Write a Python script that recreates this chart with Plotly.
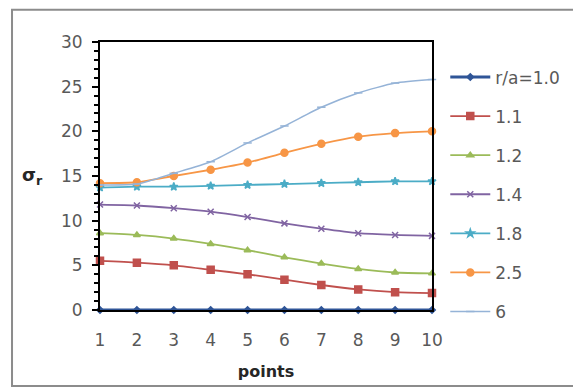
import plotly.graph_objects as go

points = [1, 2, 3, 4, 5, 6, 7, 8, 9, 10]
series_names = ["r/a=1.0", "1.1", "1.2", "1.4", "1.8", "2.5", "6"]
s_10 = [0, 0, 0, 0, 0, 0, 0, 0, 0, 0]
s_11 = [5.5, 5.3, 5.0, 4.5, 4.0, 3.4, 2.8, 2.3, 2.0, 1.9]
s_12 = [8.6, 8.4, 8.0, 7.4, 6.7, 5.9, 5.2, 4.6, 4.2, 4.1]
s_14 = [11.8, 11.7, 11.4, 11.0, 10.4, 9.7, 9.1, 8.6, 8.4, 8.3]
s_18 = [13.7, 13.8, 13.8, 13.9, 14.0, 14.1, 14.2, 14.3, 14.4, 14.4]
s_25 = [14.2, 14.3, 15.0, 15.7, 16.5, 17.6, 18.6, 19.4, 19.8, 20.0]
s_6 = [14.0, 14.1, 15.3, 16.6, 18.7, 20.6, 22.7, 24.3, 25.4, 25.8]

all_series = [s_10, s_11, s_12, s_14, s_18, s_25, s_6]
colors = ["#2F5597", "#C0504D", "#9BBB59", "#8064A2", "#4BACC6", "#F79646", "#95B3D7"]
symbols = ["diamond", "square", "triangle-up", "x-thin-open", "star", "circle", "line-ew-open"]
msizes = [5, 7, 6, 6, 6, 7, 6]
lwidths = [3, 1.8, 1.8, 1.8, 1.8, 1.8, 1.5]

fig = go.Figure()
for i, (name, ys) in enumerate(zip(series_names, all_series)):
    fig.add_trace(go.Scatter(
        x=points, y=ys, name=name, mode="lines+markers",
        line=dict(color=colors[i], width=lwidths[i], shape="spline", smoothing=0.6),
        marker=dict(symbol=symbols[i], size=msizes[i], color=colors[i],
                    line=dict(color=colors[i], width=1.5)),
        legendgroup=f"g{i}", cliponaxis=False,
    ))

font_family = "'DejaVu Sans', 'Open Sans', sans-serif"
fig.update_layout(
    width=573, height=382,
    margin=dict(l=92, r=149, t=34, b=80),
    paper_bgcolor="white", plot_bgcolor="white",
    font=dict(family=font_family, size=17, color="#595959"),
    showlegend=True,
    legend=dict(x=1.04, y=0.935, xanchor="left", yanchor="top",
                font=dict(size=17, color="#595959"),
                tracegroupgap=14, itemwidth=40, maxheight=400,
                bgcolor="rgba(0,0,0,0)"),
    xaxis=dict(range=[1, 10], tickvals=points, ticktext=[str(p) for p in points],
               showgrid=False, zeroline=False, showline=True, linecolor="black",
               linewidth=2, mirror=True, ticks="", ticklabelstandoff=14,
               title=dict(text="<b>points</b>", font=dict(size=16, color="#262626"), standoff=16)),
    yaxis=dict(range=[0, 30], dtick=5, showgrid=False, zeroline=False,
               showline=True, linecolor="black", linewidth=2, mirror=True,
               ticks="outside", ticklen=6, tickcolor="black", tickwidth=1.5,
               ticklabelstandoff=6,
               minor=dict(dtick=1, ticks="outside", ticklen=4, tickcolor="black")),
    annotations=[dict(text="<b>σ<sub>r</sub></b>", xref="paper", yref="y",
                      x=-0.165, y=15, xanchor="right", yanchor="middle", showarrow=False,
                      font=dict(size=18, color="#262626"))],
    shapes=[dict(type="rect", xref="paper", yref="paper",
                 x0=-0.265, x1=1.44, y0=-0.284, y1=1.12,
                 line=dict(color="#8C8C8C", width=2), fillcolor="rgba(0,0,0,0)", layer="below")],
)
fig.write_html("out.html")
